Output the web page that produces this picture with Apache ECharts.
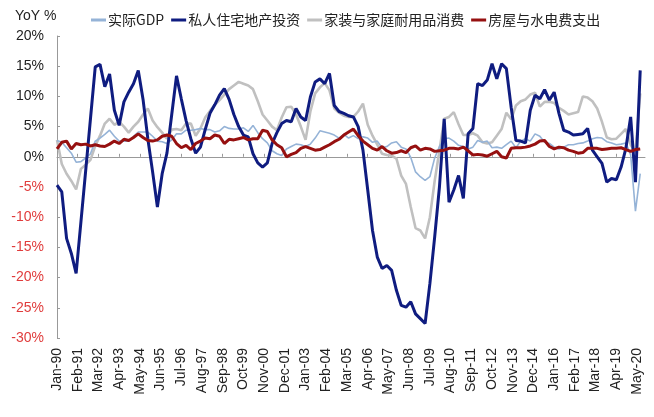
<!DOCTYPE html>
<html>
<head>
<meta charset="utf-8">
<script src="https://cdn.jsdelivr.net/npm/echarts@6/dist/echarts.min.js"></script>
<style>
html,body{margin:0;padding:0;background:#fff;}
#chart{width:654px;height:417px;}
</style>
</head>
<body>
<div id="chart"></div>
<script>
// Monthly category axis: Jan-90 .. Oct-20; quarterly observations placed at Jan/Apr/Jul/Oct
const startYear = 1990;
const monthCount = 370;
const monthNames = ['Jan','Feb','Mar','Apr','May','Jun','Jul','Aug','Sep','Oct','Nov','Dec'];
const categories = [];
for (let i = 0; i < monthCount; i++) {
  const y = startYear + Math.floor(i / 12);
  categories.push(monthNames[i % 12] + '-' + String(y % 100).padStart(2, '0'));
}

const seriesNames = ['实际GDP', '私人住宅地产投资', '家装与家庭耐用品消费', '房屋与水电费支出'];

// Quarterly YoY %, Q1-1990 .. Q3-2020
const realGDP = [
  2.7,2.4,1.5,0.6, -0.9,-0.8,-0.2,0.5, 2.6,3.1,3.7,4.4, 3.4,2.6,2.6,2.6,
  3.4,4.1,4.1,4.1, 3.4,2.6,2.5,2.2, 2.8,3.8,3.8,4.4, 4.4,4.5,4.7,4.5,
  4.5,4.1,4.3,5.0, 4.7,4.6,4.6,4.8, 4.2,5.2,4.0,3.0, 2.3,1.0,0.5,0.2,
  1.3,1.7,2.1,2.0, 1.7,2.1,3.1,4.3, 4.1,3.9,3.6,3.1, 3.7,3.1,3.5,3.0,
  3.3,3.1,2.4,2.6, 1.5,1.7,2.3,2.5, 1.6,1.3,-0.1,-2.5, -3.3,-3.9,-3.3,-0.2,
  1.7,3.0,3.1,2.6, 1.9,1.7,1.3,1.6, 2.7,2.4,2.6,1.5, 1.6,1.4,2.0,2.6,
  1.5,2.6,3.0,2.6, 3.8,3.4,2.4,2.2, 1.6,1.3,1.6,2.0, 2.0,2.2,2.3,2.6,
  3.0,3.2,3.1,2.5, 2.3,2.0,2.1,2.3, 0.3,-9.0,-2.8
];
const residentialInv = [
  -4.7,-5.8,-13.5,-16.0, -19.3,-10.8,-2.3,6.3, 14.9,15.3,11.6,13.7, 7.7,5.2,9.1,10.7,
  12.1,14.3,9.5,3.0, -2.5,-8.3,-2.8,0.6, 7.0,13.4,9.6,6.0, 3.0,0.6,1.6,4.5,
  7.2,8.6,10.2,11.3, 9.5,7.0,5.0,3.6, 3.3,0.5,-1.0,-1.7, -1.0,2.2,4.0,5.5,
  6.0,5.8,8.0,6.6, 6.0,9.9,12.4,12.9, 12.1,13.8,8.5,7.5, 7.2,6.8,6.6,5.0,
  1.1,-5.5,-12.2,-16.6, -18.5,-18.0,-18.8,-22.1, -24.6,-24.9,-24.0,-26.0, -26.8,-27.6,-21.0,-13.3,
  -5.0,6.3,-7.5,-5.5, -3.1,-6.9,3.8,4.7, 12.1,11.8,12.7,15.4, 12.9,15.4,14.6,8.2,
  2.7,2.6,2.3,7.7, 10.2,9.6,11.1,9.4, 10.7,7.2,4.4,4.1, 3.6,3.7,3.8,4.7,
  1.1,0.0,-1.1,-4.2, -3.6,-3.8,-1.7,1.4, 6.6,-4.2,14.3
];
const furnishingsPCE = [
  2.8,-1.2,-2.8,-4.0, -5.4,-2.0,-1.3,-0.5, 1.8,3.5,5.5,6.3, 5.3,5.8,5.0,4.0,
  5.0,5.8,7.0,8.0, 6.0,4.9,4.0,3.0, 4.5,4.6,4.4,5.5, 5.5,3.5,4.7,6.5,
  7.6,8.6,9.4,10.3, 11.2,11.8,12.4,12.1, 11.8,11.2,9.2,7.0, 6.0,5.0,4.4,6.5,
  8.2,8.3,7.0,5.0, 2.8,7.5,10.5,11.5, 12.2,11.0,8.0,7.3, 6.8,6.6,6.6,7.5,
  8.8,5.3,3.5,2.0, 0.5,0.3,0.2,-0.3, -3.1,-4.5,-8.3,-11.8, -12.2,-13.5,-10.0,-4.0,
  1.0,6.3,6.6,7.4, 5.4,3.6,3.6,3.9, 3.5,2.4,2.2,2.4, 3.5,4.6,7.3,6.2,
  8.5,9.2,9.5,10.3, 10.6,8.3,9.1,9.1, 8.9,8.1,7.6,7.0, 7.2,7.4,10.0,9.8,
  9.2,8.0,5.8,3.2, 2.9,3.0,3.8,4.6, 2.0,0.8,10.5
];
const housingUtilPCE = [
  1.3,2.4,2.6,1.3, 2.2,2.0,2.1,1.8, 2.0,1.8,1.7,2.1, 2.6,2.2,2.9,2.7,
  3.2,3.8,3.2,2.7, 2.6,2.8,3.4,3.6, 3.4,2.2,1.5,1.9, 1.2,2.2,2.6,3.1,
  3.0,3.6,3.4,2.2, 2.9,2.8,3.0,3.2, 2.8,3.0,3.0,4.4, 4.2,2.8,2.0,1.5,
  0.0,0.4,0.7,1.4, 1.7,1.4,1.1,1.2, 1.6,2.0,2.5,2.9, 3.6,4.1,4.6,3.5,
  2.6,2.0,1.4,1.1, 1.7,1.0,0.6,0.7, 1.0,0.7,1.5,1.8, 1.1,1.4,1.3,0.9,
  1.0,1.1,1.4,1.4, 1.3,1.6,1.0,0.3, 0.4,0.3,0.1,0.5, 0.9,0.0,-0.2,1.4,
  1.5,1.5,1.6,1.8, 2.1,2.6,2.7,1.7, 1.3,1.6,1.5,1.1, 0.9,0.6,0.7,1.4,
  1.4,1.4,1.2,1.3, 1.4,1.4,1.5,1.2, 0.9,1.2,1.3
];

const yTicks = { min: -30, max: 20, step: 5 };
const colors = ['#95B3D7', '#0F1C80', '#C0C0C0', '#961010'];
const widths = [1.6, 3, 2.6, 3];
const seriesValues = [realGDP, residentialInv, furnishingsPCE, housingUtilPCE];

function toPoints(arr) {
  return arr.map((v, q) => [q * 3, v]);
}

const chart = echarts.init(document.getElementById('chart'), null, { renderer: 'canvas' });
const option = {
  animation: false,
  backgroundColor: '#ffffff',
  textStyle: { fontFamily: 'Liberation Sans, Arial, sans-serif' },
  graphic: [{
    type: 'text', left: 15, top: 9,
    style: { text: 'YoY %', fontSize: 14, fill: '#222', fontFamily: 'Liberation Sans, Arial, sans-serif' }
  }],
  legend: {
    left: 86, top: 8,
    itemWidth: 15, itemGap: 7,
    textStyle: { fontSize: 14, color: '#222', fontFamily: 'Noto Sans CJK SC, sans-serif', padding: [0, 0, 0, -3] },
    data: seriesNames.map((name, i) => ({
      name,
      icon: 'rect',
      itemStyle: { color: colors[i] }
    })),
    itemHeight: 3
  },
  grid: { left: 57, right: 9, top: 36, bottom: 79 },
  xAxis: [{
    type: 'category',
    data: categories,
    boundaryGap: false,
    position: 'bottom',
    axisLine: { show: false, onZero: false },
    axisTick: { show: false },
    axisLabel: {
      interval: 12, rotate: 90, fontSize: 14, color: '#222', margin: 10,
      fontFamily: 'Liberation Sans, Arial, sans-serif'
    },
    splitLine: { show: false }
  }, {
    type: 'category',
    data: categories,
    boundaryGap: false,
    position: 'bottom',
    axisLine: { show: true, onZero: true, lineStyle: { color: '#999', width: 1 } },
    axisTick: { show: true, inside: true, interval: 12, length: 3, lineStyle: { color: '#999' } },
    axisLabel: { show: false },
    splitLine: { show: false }
  }],
  yAxis: {
    type: 'value',
    min: yTicks.min, max: yTicks.max, interval: yTicks.step,
    axisLine: { show: true, lineStyle: { color: '#999', width: 1 } },
    axisTick: { show: true, inside: true, length: 3, lineStyle: { color: '#999' } },
    splitLine: { show: false },
    axisLabel: {
      fontSize: 14, margin: 13,
      fontFamily: 'Liberation Sans, Arial, sans-serif',
      formatter: v => v + '%',
      color: v => (Number(v) < 0 ? '#E03C3C' : '#222')
    }
  },
  series: seriesNames.map((name, i) => ({
    name,
    type: 'line',
    xAxisIndex: 0,
    data: toPoints(seriesValues[i]),
    symbol: 'none',
    z: [2, 4, 1, 5][i],
    lineStyle: { color: colors[i], width: widths[i] },
    itemStyle: { color: colors[i] }
  }))
};
chart.setOption(option);
</script>
</body>
</html>
